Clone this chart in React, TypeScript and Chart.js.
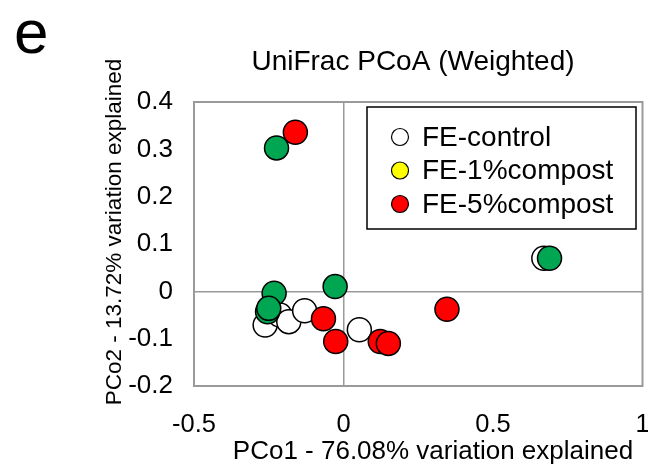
import React, { useEffect, useRef } from 'react';
import { Chart, registerables } from 'chart.js';

Chart.register(...registerables);

// ---- data ----
const controlX = [-0.262, -0.213, -0.183, -0.13, 0.053, 0.67];
const controlY = [-0.071, -0.05, -0.064, -0.041, -0.081, 0.07];
const compost1X = [-0.224, 0.689, -0.028, -0.232, -0.254, -0.25];
const compost1Y = [0.303, 0.07, 0.01, -0.004, -0.043, -0.036];
const compost5X = [-0.161, -0.067, -0.026, 0.123, 0.15, 0.346];
const compost5Y = [0.336, -0.058, -0.106, -0.106, -0.11, -0.038];

const xTicks = [-0.5, 0, 0.5, 1];
const yTicks = [-0.2, -0.1, 0, 0.1, 0.2, 0.3, 0.4];

const seriesLabels = ['FE-control', 'FE-1%compost', 'FE-5%compost'];
const legendColors = ['#FFFFFF', '#FFFF00', '#FF0000'];
const pointColors = ['#FFFFFF', '#00A651', '#FF0000'];

const titleText = 'UniFrac PCoA (Weighted)';
const xTitleText = 'PCo1 - 76.08% variation explained';
const yTitleText = 'PCo2 - 13.72% variation explained';
const panelLabel = 'e';

const FONT = "'Liberation Sans', Arial, Helvetica, sans-serif";

const toPoints = (xs: number[], ys: number[]) => xs.map((x, i) => ({ x, y: ys[i] }));

const overlayPlugin = {
  id: 'overlay',
  beforeDatasetsDraw(chart: any) {
    const { ctx, chartArea: a } = chart;
    ctx.save();
    ctx.strokeStyle = '#9a9a9a';
    ctx.lineWidth = 2;
    ctx.strokeRect(a.left, a.top, a.right - a.left, a.bottom - a.top);
    ctx.restore();
  },
  afterDraw(chart: any) {
    const { ctx, chartArea: a } = chart;
    ctx.save();
    ctx.fillStyle = '#000';
    // panel label
    ctx.font = `62px ${FONT}`;
    ctx.textAlign = 'left';
    ctx.textBaseline = 'alphabetic';
    ctx.fillText(panelLabel, 14, 53);
    // title
    ctx.font = `28px ${FONT}`;
    ctx.textAlign = 'center';
    ctx.fillText(titleText, 413, 70);
    // x title
    ctx.font = `26px ${FONT}`;
    ctx.fillText(xTitleText, 433, 459);
    // y title
    ctx.save();
    ctx.translate(121, 232);
    ctx.rotate(-Math.PI / 2);
    ctx.font = `22.5px ${FONT}`;
    ctx.textAlign = 'center';
    ctx.fillText(yTitleText, 0, 0);
    ctx.restore();

    // legend
    const lx = a.left + 173;
    const ly = a.top + 5;
    const lw = 269;
    const lh = 122;
    ctx.fillStyle = '#fff';
    ctx.fillRect(lx, ly, lw, lh);
    ctx.strokeStyle = '#000';
    ctx.lineWidth = 1.5;
    ctx.strokeRect(lx, ly, lw, lh);
    ctx.font = `28px ${FONT}`;
    ctx.textAlign = 'left';
    ctx.textBaseline = 'middle';
    seriesLabels.forEach((lab, i) => {
      const cy = ly + 30 + i * 33.5;
      ctx.beginPath();
      ctx.arc(lx + 33, cy, 8.5, 0, Math.PI * 2);
      ctx.fillStyle = legendColors[i];
      ctx.fill();
      ctx.lineWidth = 1.2;
      ctx.strokeStyle = '#000';
      ctx.stroke();
      ctx.fillStyle = '#000';
      ctx.fillText(lab, lx + 55, cy + 1);
    });
    ctx.restore();
  },
};

export default function App() {
  const ref = useRef<HTMLCanvasElement | null>(null);

  useEffect(() => {
    if (!ref.current) return;
    const zeroGrid = (c: any) => (c.tick && Math.abs(c.tick.value) < 1e-9 ? '#9a9a9a' : 'rgba(0,0,0,0)');
    const chart = new Chart(ref.current, {
      type: 'scatter',
      data: {
        datasets: [
          {
            label: seriesLabels[0],
            data: toPoints(controlX, controlY),
            backgroundColor: pointColors[0],
            borderColor: '#000',
            borderWidth: 1.5,
            pointRadius: 12,
            order: 3,
          },
          {
            label: seriesLabels[1],
            data: toPoints(compost1X, compost1Y),
            backgroundColor: pointColors[1],
            borderColor: '#000',
            borderWidth: 1.5,
            pointRadius: 12,
            order: 2,
          },
          {
            label: seriesLabels[2],
            data: toPoints(compost5X, compost5Y),
            backgroundColor: pointColors[2],
            borderColor: '#000',
            borderWidth: 1.5,
            pointRadius: 12,
            order: 1,
          },
        ],
      },
      options: {
        responsive: false,
        animation: false,
        layout: { padding: { top: 102, right: 5, left: 0, bottom: 0 } },
        plugins: {
          legend: { display: false },
          tooltip: { enabled: false },
          title: { display: false },
        },
        scales: {
          x: {
            type: 'linear',
            min: xTicks[0],
            max: xTicks[xTicks.length - 1],
            afterBuildTicks: (s: any) => {
              s.ticks = xTicks.map((v) => ({ value: v }));
            },
            afterFit: (s: any) => {
              s.height = 83;
              s.paddingLeft = 0;
              s.paddingRight = 0;
            },
            ticks: {
              autoSkip: false,
              maxRotation: 0,
              padding: 24,
              color: '#000',
              font: { family: FONT, size: 25.5 },
              callback: (v: any) => String(v),
            },
            grid: { color: zeroGrid, lineWidth: 1.5, drawTicks: false },
            border: { display: false },
          },
          y: {
            type: 'linear',
            min: yTicks[0],
            max: yTicks[yTicks.length - 1],
            afterBuildTicks: (s: any) => {
              s.ticks = yTicks.map((v) => ({ value: v }));
            },
            afterFit: (s: any) => {
              s.width = 194;
              s.paddingTop = 0;
              s.paddingBottom = 0;
            },
            ticks: {
              autoSkip: false,
              padding: 21,
              color: '#000',
              font: { family: FONT, size: 26 },
              callback: (v: any) => String(v),
            },
            grid: { color: zeroGrid, lineWidth: 1.5, drawTicks: false },
            border: { display: false },
          },
        },
      },
      plugins: [overlayPlugin],
    } as any);
    return () => chart.destroy();
  }, []);

  return (
    <div style={{ position: 'absolute', left: 0, top: 0, width: 648, height: 469, overflow: 'hidden', background: '#fff' }}>
      <canvas ref={ref} width={656} height={469} style={{ display: 'block' }} />
    </div>
  );
}
